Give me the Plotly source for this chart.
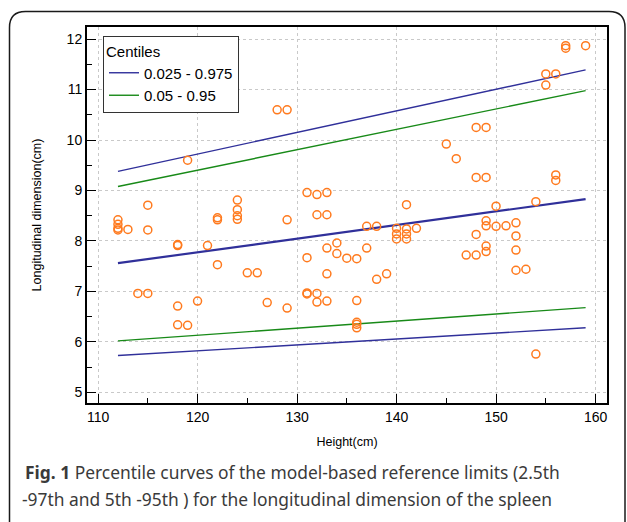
import plotly.graph_objects as go

# ---- data ----
height_cm = [112, 112, 112, 112, 113, 114, 115, 115, 115,
             118, 118, 118, 118, 119, 119, 120, 121, 122, 122, 122,
             124, 124, 124, 124, 125, 126, 127, 128, 129, 129, 129,
             131, 131, 131, 131, 132, 132, 132, 132, 133, 133, 133, 133, 133,
             134, 134, 135, 136, 136, 136, 136, 136, 137, 137, 138, 138, 139,
             140, 140, 140, 141, 141, 141, 141, 142, 145, 146, 147,
             148, 148, 148, 148, 149, 149, 149, 149, 149, 149,
             150, 150, 151, 152, 152, 152, 152, 153, 154, 154,
             155, 155, 156, 156, 156, 157, 157, 159]
spleen_cm = [8.42, 8.33, 8.25, 8.22, 8.23, 6.96, 8.71, 8.22, 6.96,
             7.93, 7.91, 6.71, 6.34, 9.60, 6.33, 6.81, 7.91, 8.46, 8.42, 7.53,
             8.81, 8.62, 8.50, 8.43, 7.37, 7.37, 6.78, 10.60, 10.60, 8.42, 6.67,
             8.96, 7.67, 6.97, 6.95, 8.92, 8.52, 6.96, 6.79, 8.96, 8.52, 7.86, 7.35, 6.81,
             7.96, 7.75, 7.66, 7.65, 6.82, 6.39, 6.35, 6.28, 8.29, 7.86, 8.29, 7.24, 7.35,
             8.25, 8.14, 8.04, 8.72, 8.24, 8.14, 8.04, 8.25, 9.92, 9.63, 7.72,
             10.25, 9.26, 8.13, 7.72, 10.25, 9.26, 8.40, 8.30, 7.90, 7.79,
             8.69, 8.29, 8.30, 8.36, 8.10, 7.82, 7.42, 7.44, 8.78, 5.76,
             11.31, 11.09, 11.31, 9.31, 9.20, 11.87, 11.82, 11.87]

curve_x = [112, 159]
c_0025 = [5.73, 6.28]
c_0975 = [9.38, 11.39]
c_005 = [6.02, 6.68]
c_095 = [9.08, 10.98]
c_median = [7.56, 8.83]

x_ticks = [110, 120, 130, 140, 150, 160]
y_ticks = [5, 6, 7, 8, 9, 10, 11, 12]

legend_title = "Centiles"
name_outer = "0.025 - 0.975"
name_inner = "0.05 - 0.95"
caption_1 = "<b>Fig. 1</b> Percentile curves of the model-based reference limits (2.5th"
caption_2 = "-97th and 5th -95th ) for the longitudinal dimension of the spleen"

# ---- styles / geometry ----
W, H = 627, 522
L, R, T, B = 87, 20, 27, 119
PW, PH = W - L - R, H - T - B
FONT = "Liberation Sans"


def px2x(px):
    return (px - L) / PW


def py2y(py):
    return (H - B - py) / PH


BLUE = "#30309a"
GREEN = "#188a18"
ORANGE = "#ff7a1e"

fig = go.Figure()

fig.add_trace(go.Scatter(x=curve_x, y=c_0975, mode="lines", name=name_outer,
                         line=dict(color=BLUE, width=1.4), legendgroup="o"))
fig.add_trace(go.Scatter(x=curve_x, y=c_0025, mode="lines", showlegend=False,
                         line=dict(color=BLUE, width=1.4), legendgroup="o"))
fig.add_trace(go.Scatter(x=curve_x, y=c_095, mode="lines", name=name_inner,
                         line=dict(color=GREEN, width=1.4), legendgroup="i"))
fig.add_trace(go.Scatter(x=curve_x, y=c_005, mode="lines", showlegend=False,
                         line=dict(color=GREEN, width=1.4), legendgroup="i"))
fig.add_trace(go.Scatter(x=curve_x, y=c_median, mode="lines", showlegend=False,
                         line=dict(color=BLUE, width=2.2)))
fig.add_trace(go.Scatter(x=height_cm, y=spleen_cm, mode="markers", showlegend=False,
                         marker=dict(symbol="circle-open", size=8, color=ORANGE,
                                     line=dict(width=1.5, color=ORANGE))))

axis_common = dict(
    showline=True, linewidth=2, linecolor="black", mirror=True,
    ticks="inside", ticklen=9, tickwidth=1, tickcolor="black",
    showgrid=True, gridcolor="#c9c9c9", gridwidth=1, griddash="3px,3px",
    zeroline=False, tickfont=dict(family=FONT, size=14, color="black"),
)

fig.update_xaxes(range=[108.89, 161.15], tickvals=x_ticks,
                 minor=dict(ticks="inside", ticklen=5, tickwidth=1, tickcolor="black",
                            tick0=110, dtick=5),
                 title=dict(text="Height(cm)", font=dict(family=FONT, size=12.5, color="black"),
                            standoff=13),
                 **axis_common)
fig.update_yaxes(range=[4.79, 12.24], tickvals=y_ticks,
                 minor=dict(ticks="inside", ticklen=5, tickwidth=1, tickcolor="black",
                            tick0=5, dtick=0.5),
                 title=dict(text="Longitudinal dimension(cm)",
                            font=dict(family=FONT, size=12.5, color="black"),
                            standoff=22),
                 **axis_common)

# outer rounded frame
x0, y0, x1, y1, r = px2x(9.5), py2y(11.5), px2x(625), py2y(535), 16 / PW
ry = 16 / PH
path = (f"M {x0},{y1} L {x0},{y0 - ry} Q {x0},{y0} {x0 + r},{y0} "
        f"L {x1 - r},{y0} Q {x1},{y0} {x1},{y0 - ry} L {x1},{y1}")
fig.add_shape(type="path", path=path, xref="paper", yref="paper",
              line=dict(color="#1a1a1a", width=1.5), layer="above")

fig.add_annotation(text=caption_1, xref="paper", yref="paper",
                   x=px2x(23), y=py2y(472), xanchor="left", yanchor="middle",
                   showarrow=False, font=dict(family="Noto Sans", size=17.4, color="#3a3a3a"))
fig.add_annotation(text=caption_2, xref="paper", yref="paper",
                   x=px2x(20), y=py2y(499), xanchor="left", yanchor="middle",
                   showarrow=False, font=dict(family="Noto Sans", size=17.4, color="#3a3a3a"))

fig.update_layout(
    width=W, height=H,
    margin=dict(l=L, r=R, t=T, b=B),
    paper_bgcolor="white", plot_bgcolor="white",
    font=dict(family=FONT, color="black"),
    legend=dict(x=px2x(103), y=py2y(36), xanchor="left", yanchor="top",
                bgcolor="white", bordercolor="#333333", borderwidth=1,
                title=dict(text=legend_title, font=dict(family=FONT, size=15)),
                font=dict(family=FONT, size=15), tracegroupgap=0,
                itemwidth=30),
)

fig.write_html("out.html")
